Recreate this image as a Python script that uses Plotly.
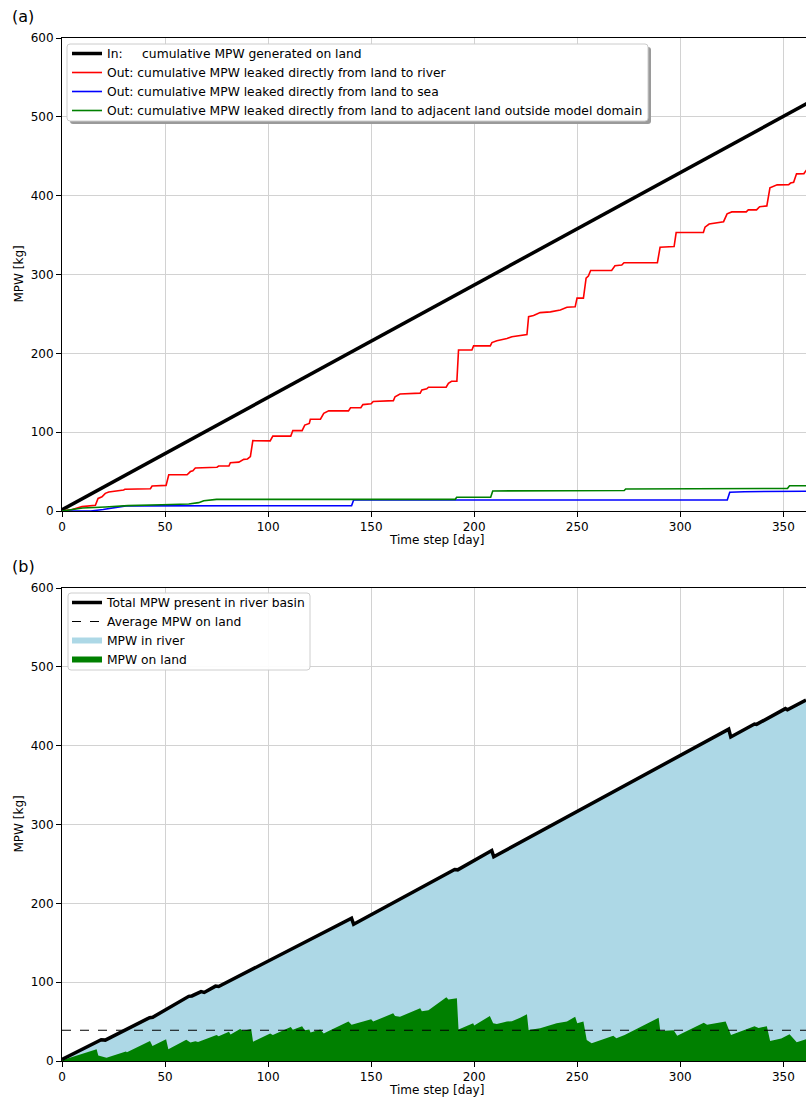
import plotly.graph_objects as go

# ---------------- data ----------------
in_days = [0, 365]
in_vals = [1.5, 522]

river_days = [0, 5, 9.7, 16.2, 17.5, 19.4, 21, 22.7, 29.9, 30.5, 42.9, 43.7, 50.5, 51.8, 60.7, 62.3, 63.5, 64.7,
              75.2, 76, 81, 81.7, 85.8, 88.2, 90, 91.4, 92.6, 101, 102.3, 111, 112, 116.5, 117.8, 120, 120.5,
              125.4, 127, 129.4, 139, 140, 145, 146, 150, 151, 160.8, 161.6, 164, 173.8, 174.6, 177, 177.8,
              186.4, 187.5, 189, 191.6, 192.4, 198.9, 199.7, 207.8, 208.6, 211, 213, 215.9, 218.3, 222.3,
              225.6, 226.4, 228.8, 232, 237, 241.8, 245, 249, 249.9, 253, 254.3, 255.4, 256.5, 266.7, 268.3,
              271.6, 272.7, 288.9, 290.2, 297, 298, 311.2, 312, 314, 317.8, 321, 322.7, 325, 332, 333, 337,
              338.5, 342, 343.5, 347, 352.6, 353.5, 355, 356.4, 360, 361.3]
river_vals = [0, 2, 5.5, 7.2, 16, 18, 22.4, 24, 26.6, 27.5, 28.3, 31.7, 32.5, 46, 46, 50, 51, 54.5,
              55.5, 57, 57, 61.3, 62, 65.5, 66, 69, 89.2, 89, 95, 95, 102, 102, 109, 111, 116.3,
              116.5, 124, 127, 127, 131, 131, 135, 136, 139, 140, 145, 148.5, 149.5, 153.5, 155, 157,
              157, 162, 164.5, 164.5, 204.3, 204.3, 209.4, 209.4, 213.6, 216, 217, 218.7, 221, 223,
              223.7, 246.6, 248, 251.7, 252.6, 255, 258.5, 259, 270, 270, 295.3, 298, 305, 305, 311,
              312, 315, 315, 334.6, 335.5, 353.2, 353.2, 360, 364, 365.5, 367, 377, 379.4, 379.4, 382, 382,
              386, 387, 410, 413.7, 414, 416, 417, 427.7, 428, 432.7]

sea_days = [0, 14, 20, 25, 31, 140.5, 141.5, 322.8, 324, 331, 361]
sea_vals = [0, 0, 2, 4, 6.5, 6.7, 14, 14, 23.7, 24.5, 25]

adj_days = [0, 10, 21, 32, 48.5, 61.5, 66.3, 68.8, 75, 190.8, 191.5, 208, 209, 263.6, 264.5, 272.8, 273.5,
            337, 338, 352, 353, 361]
adj_vals = [0, 3.8, 5, 6.8, 8, 8.9, 10.6, 13, 14.8, 14.8, 17.4, 17.4, 25.4, 25.4, 26, 26, 27.9,
            27.9, 28.6, 28.6, 32, 32]

total_days = [0, 19, 21, 42.5, 44, 61.5, 63, 67.5, 69, 74.5, 76, 140.5, 141.5, 190.5, 192, 208.5, 209.5,
              323.5, 324.5, 336, 337, 351, 352, 361]
total_vals = [2, 27, 26.5, 55, 55.5, 82, 82.5, 88, 87, 95, 94.5, 181, 173.5, 243, 242.5, 267, 259,
              421, 411, 427.5, 427, 447, 445.5, 458]

land_days = [0, 16.8, 17.6, 21.6, 31, 31.5, 42.7, 43.9, 50.5, 51.6, 60.3, 62.3, 64.7, 66, 75, 76, 81, 81.8,
             86.4, 88, 91.8, 92.7, 101, 102.3, 111, 112, 116.5, 117.8, 120, 120.6, 125.4, 127, 129.4, 139,
             140.5, 150, 151, 160.7, 161.6, 164, 173.8, 174.6, 177.8, 186.5, 187.5, 191.6, 192.4, 199.5,
             200, 207.6, 209.2, 211, 215.9, 218.3, 222.3, 225.6, 226.4, 232, 240, 245, 249, 250, 253,
             254.6, 257, 267.5, 269, 273, 289.5, 290.3, 296.8, 298.5, 311.4, 313, 322, 324.6, 336, 338,
             342, 343.6, 349, 353, 354, 356.5, 361.5]
land_vals = [1, 14.8, 7, 4.2, 12, 11, 25.4, 19, 27.5, 14.8, 27, 23.5, 25, 24, 33, 31.5, 37, 33.5,
             40.6, 38.5, 40.5, 24.5, 35, 33, 43, 39.5, 44, 39, 40, 36, 40, 35, 38, 50,
             46, 53, 50, 60.5, 57, 56, 67, 63, 64.5, 80.8, 78, 79.6, 40, 47.8,
             45, 57, 47.8, 47, 50, 50.5, 55, 59.2, 39.3, 41.5, 48, 50, 56.2, 48, 50,
             26.6, 22.4, 32, 29, 33, 55, 38, 39, 32, 48.6, 46, 50, 33, 44, 42,
             44, 25.4, 28.6, 34, 31, 23.8, 28]

avg_land = 39
avg_days = [0, 365]

x_ticks = [0, 50, 100, 150, 200, 250, 300, 350]
y_ticks = [0, 100, 200, 300, 400, 500, 600]

# ---------------- layout geometry ----------------
W, H = 806, 1098
L, R = 62, 806
A_TOP, A_BOT = 38, 511
B_TOP, B_BOT = 588, 1061
PH = B_BOT - A_TOP
PW = R - L


def py(p):
    return (B_BOT - p) / PH


def px(p):
    return (p - L) / PW


FONT = "DejaVu Sans"
NB = "\u00a0"
FS = 12
LFS = 12.3

fig = go.Figure()

# panel (a)
fig.add_trace(go.Scatter(x=in_days, y=in_vals, mode="lines", line=dict(color="black", width=3.5),
                         name="In:" + NB * 5 + "cumulative MPW generated on land", xaxis="x", yaxis="y",
                         legend="legend"))
fig.add_trace(go.Scatter(x=river_days, y=river_vals, mode="lines", line=dict(color="red", width=1.6),
                         name="Out:" + NB + "cumulative MPW leaked directly from land to river",
                         xaxis="x", yaxis="y", legend="legend"))
fig.add_trace(go.Scatter(x=sea_days, y=sea_vals, mode="lines", line=dict(color="blue", width=1.6),
                         name="Out:" + NB + "cumulative MPW leaked directly from land to sea",
                         xaxis="x", yaxis="y", legend="legend"))
fig.add_trace(go.Scatter(x=adj_days, y=adj_vals, mode="lines", line=dict(color="green", width=1.6),
                         name="Out:" + NB + "cumulative MPW leaked directly from land to adjacent land outside model domain",
                         xaxis="x", yaxis="y", legend="legend"))

# panel (b)
fig.add_trace(go.Scatter(x=total_days, y=total_vals, mode="none", fill="tozeroy", fillcolor="lightblue",
                         name="MPW in river", xaxis="x2", yaxis="y2", legend="legend2", legendrank=3))
fig.add_trace(go.Scatter(x=land_days, y=land_vals, mode="none", fill="tozeroy", fillcolor="green",
                         name="MPW on land", xaxis="x2", yaxis="y2", legend="legend2", legendrank=4))
fig.add_trace(go.Scatter(x=avg_days, y=[avg_land, avg_land], mode="lines",
                         line=dict(color="black", width=1, dash="dash"),
                         name="Average MPW on land", xaxis="x2", yaxis="y2", legend="legend2", legendrank=2))
fig.add_trace(go.Scatter(x=total_days, y=total_vals, mode="lines", line=dict(color="black", width=3.5),
                         name="Total MPW present in river basin", xaxis="x2", yaxis="y2", legend="legend2",
                         legendrank=1))

axis_common = dict(showgrid=True, gridcolor="#d2d2d2", gridwidth=1, showline=True, linecolor="black",
                   linewidth=1, ticks="outside", ticklen=5, tickcolor="black", tickwidth=1,
                   tickfont=dict(family=FONT, size=FS, color="black"), zeroline=False)

xa = dict(axis_common, range=[0, 361], tickmode="array", tickvals=x_ticks, mirror=True)
ya = dict(axis_common, range=[0, 600], tickmode="array", tickvals=y_ticks, mirror=False)

legend_common = dict(bgcolor="rgba(0,0,0,0)", borderwidth=0,
                     font=dict(family=FONT, size=LFS, color="black"), xanchor="left", yanchor="top",
                     tracegroupgap=0, itemwidth=30)

fig.update_layout(
    width=W, height=H,
    margin=dict(l=L, r=W - R, t=A_TOP, b=H - B_BOT),
    plot_bgcolor="white", paper_bgcolor="white",
    font=dict(family=FONT, size=FS, color="black"),
    xaxis=dict(xa, domain=[0, 1], anchor="y"),
    yaxis=dict(ya, domain=[py(A_BOT), 1], anchor="x"),
    xaxis2=dict(xa, domain=[0, 1], anchor="y2"),
    yaxis2=dict(ya, domain=[0, py(B_TOP)], anchor="x2"),
    legend=dict(legend_common, x=px(67), y=py(39), traceorder="normal"),
    legend2=dict(legend_common, x=px(67), y=py(588), traceorder="normal"),
    showlegend=True,
)


def rounded_box(x0, y0, x1, y1, r=3):
    X0, X1 = px(x0), px(x1)
    Y0, Y1 = py(y0), py(y1)  # Y0 top, Y1 bottom in paper
    rx, ry = r / PW, r / PH
    return (f"M {X0 + rx},{Y0} L {X1 - rx},{Y0} Q {X1},{Y0} {X1},{Y0 - ry} "
            f"L {X1},{Y1 + ry} Q {X1},{Y1} {X1 - rx},{Y1} L {X0 + rx},{Y1} Q {X0},{Y1} {X0},{Y1 + ry} "
            f"L {X0},{Y0 - ry} Q {X0},{Y0} {X0 + rx},{Y0} Z")


# legend frames (matplotlib style): panel (a) with shadow, panel (b) without
fig.add_shape(type="path", xref="paper", yref="paper", path=rounded_box(70, 47, 651, 124),
              fillcolor="#9a9a9a", line=dict(width=0), layer="above")
fig.add_shape(type="path", xref="paper", yref="paper", path=rounded_box(67, 44, 648, 121),
              fillcolor="white", line=dict(color="#cccccc", width=1), layer="above")
fig.add_shape(type="path", xref="paper", yref="paper", path=rounded_box(68, 593, 310, 670),
              fillcolor="white", line=dict(color="#cccccc", width=1), layer="above", opacity=0.95)

ann = [
    dict(text="(a)", x=px(10), y=py(16), xanchor="left", yanchor="middle", size=16),
    dict(text="(b)", x=px(10), y=py(566), xanchor="left", yanchor="middle", size=16),
    dict(text="Time step [day]", x=px(436), y=py(540), xanchor="center", yanchor="middle", size=FS),
    dict(text="Time step [day]", x=px(436), y=py(1090), xanchor="center", yanchor="middle", size=FS),
    dict(text="MPW [kg]", x=px(18), y=py((A_TOP + A_BOT) / 2), xanchor="center", yanchor="middle",
         textangle=-90, size=FS),
    dict(text="MPW [kg]", x=px(18), y=py((B_TOP + B_BOT) / 2), xanchor="center", yanchor="middle",
         textangle=-90, size=FS),
]
for a in ann:
    s = a.pop("size")
    a.update(xref="paper", yref="paper", showarrow=False, font=dict(family=FONT, color="black", size=s))
    fig.add_annotation(**a)

fig.write_html("out.html", config={"displayModeBar": False},
               post_script="document.body.style.margin='0';document.body.style.overflow='hidden';"
                           "document.documentElement.style.overflow='hidden';")
